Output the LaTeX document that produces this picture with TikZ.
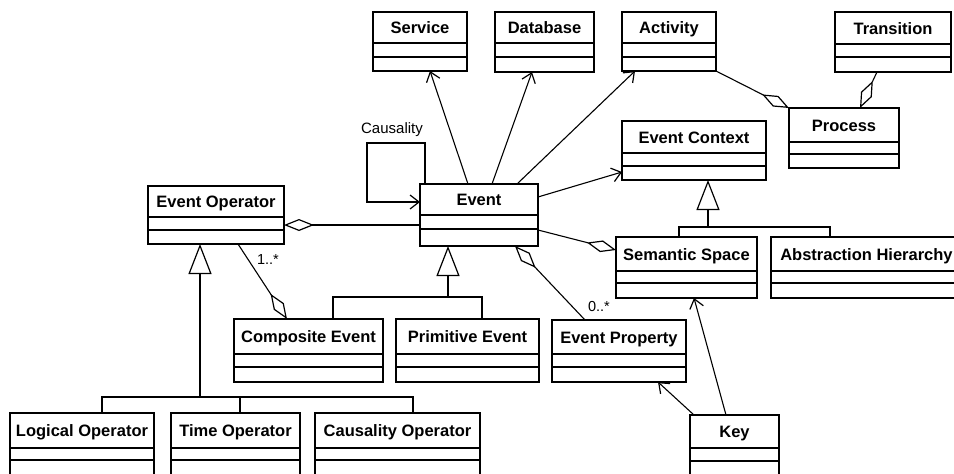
\documentclass[tikz,border=0pt]{standalone}
\usepackage{fontspec}
\setmainfont{Liberation Sans}
\usetikzlibrary{arrows.meta,calc}

\tikzset{
  classbox/.style={draw, line width=1.5pt, inner sep=0pt, outer sep=0pt, anchor=north west},
  compart/.style={line width=1.5pt},
  classname/.style={font=\bfseries\fontsize{16.5}{18}\selectfont, anchor=base, inner sep=0pt},
  assoc/.style={line width=1.1pt, -{Straight Barb[length=9pt,width=14pt,line width=1.2pt]}},
  aggr/.style={line width=1.1pt, {Diamond[open,length=30pt,width=12pt,line width=1.2pt]}-},
  gen/.style={line width=1.1pt, -{Triangle[open,length=30pt,width=23pt,line width=1.2pt]}},
  bus/.style={line width=1.1pt},
  mult/.style={font=\fontsize{14.5}{16}\selectfont, inner sep=0pt},
}

% class box: name, x1, y1, x2, y2, first divider, second divider, title
\newcommand{\umlclass}[8]{%
  \node[classbox, minimum width={(#4-#2)*1pt}, minimum height={(#5-#3)*1pt}] (#1) at (#2,#3) {};
  \draw[compart] (#2,#6) -- (#4,#6) (#2,#7) -- (#4,#7);
  \node[classname] at ({(#2+#4)/2},{(#3+#6)/2+6}) {#8};
}

\begin{document}
\begin{tikzpicture}[x=1pt,y=-1pt]
\useasboundingbox (0,0) rectangle (954,474);
\clip (0,0) rectangle (954,474);

% classes
\umlclass{sv}{373}{12}{467}{71}{43}{57}{Service}
\umlclass{db}{495}{12}{594}{72}{43}{57}{Database}
\umlclass{ac}{622}{12}{716}{71}{43}{57}{Activity}
\umlclass{tr}{835}{12}{951}{72}{44}{57}{Transition}
\umlclass{pr}{789}{108}{899}{168}{142}{154}{Process}
\umlclass{ec}{622}{121}{766}{180}{153}{166}{Event Context}
\umlclass{eo}{148}{186}{284}{244}{217}{230}{Event Operator}
\umlclass{ev}{420}{184}{538}{246}{215}{229}{Event}
\umlclass{ss}{616}{237}{757}{298}{271}{283}{Semantic Space}
\umlclass{ah}{771}{237}{962}{298}{271}{283}{Abstraction Hierarchy}
\umlclass{ce}{234}{319}{383}{382}{354}{367}{Composite Event}
\umlclass{pe}{396}{319}{539}{382}{354}{367}{Primitive Event}
\umlclass{ep}{552}{320}{686}{382}{354}{367}{Event Property}
\umlclass{lo}{10}{413}{154}{490}{448}{460}{Logical Operator}
\umlclass{to}{171}{413}{300}{490}{448}{460}{Time Operator}
\umlclass{co}{315}{413}{480}{490}{448}{460}{Causality Operator}
\umlclass{key}{690}{415}{779}{490}{448}{461}{Key}

% directed associations
\draw[assoc] ([xshift=48pt]ev.north west) -- ([xshift=57pt]sv.south west);
\draw[assoc] ([xshift=72pt]ev.north west) -- ([xshift=37pt]db.south west);
\draw[assoc] ([xshift=97pt]ev.north west) -- ([xshift=13pt]ac.south west);
\draw[assoc] ([yshift=-13pt]ev.north east) -- ([yshift=-51pt]ec.north west);
\draw[assoc] ([xshift=36pt]key.north west) -- ([xshift=78pt]ss.south west);
\draw[assoc] ([xshift=4pt]key.north west) -- ([xshift=106pt]ep.south west);

% causality self association
\draw[assoc] ([xshift=5pt]ev.north west) -- ++(0,-41) -- ++(-58,0) |- ([yshift=-18pt]ev.north west);
\node[font=\fontsize{15}{17}\selectfont, inner sep=0pt] (causal) at (392,130) {Causality};

% aggregations
\draw[aggr] (pr.north west) -- (ac.south east);
\draw[aggr] ([xshift=71pt]pr.north west) -- ([xshift=42pt]tr.south west);
\draw[aggr] ([yshift=-39pt]eo.north east) -- ([yshift=-41pt]ev.north west);
\draw[aggr] ([yshift=-13pt]ss.north west) -- ([yshift=-46pt]ev.north east);
\draw[aggr] ([xshift=95pt]ev.south west) -- ([xshift=33pt]ep.north west);
\draw[aggr] ([xshift=53pt]ce.north west) -- ([xshift=90pt]eo.south west);
\node[mult] (m1) at (268,260) {1..*};
\node[mult] (m0) at (599,307) {0..*};

% generalizations: Event
\coordinate (evbus) at ($(ev.south west)+(28,51)$);
\draw[bus] ([xshift=99pt]ce.north west) -- ++(0,-22) -| ([xshift=86pt]pe.north west);
\draw[gen] (evbus) -- ([xshift=28pt]ev.south west);

% generalizations: Event Context
\coordinate (ecbus) at ($(ec.south west)+(86,47)$);
\draw[bus] ([xshift=63pt]ss.north west) -- ++(0,-10) -| ([xshift=59pt]ah.north west);
\draw[gen] (ecbus) -- ([xshift=86pt]ec.south west);

% generalizations: Event Operator
\coordinate (eobus) at ($(eo.south west)+(52,153)$);
\draw[bus] ([xshift=92pt]lo.north west) -- ++(0,-16) -| ([xshift=98pt]co.north west);
\draw[bus] ([xshift=69pt]to.north west) -- ++(0,-16);
\draw[gen] (eobus) -- ([xshift=52pt]eo.south west);
\end{tikzpicture}
\end{document}
